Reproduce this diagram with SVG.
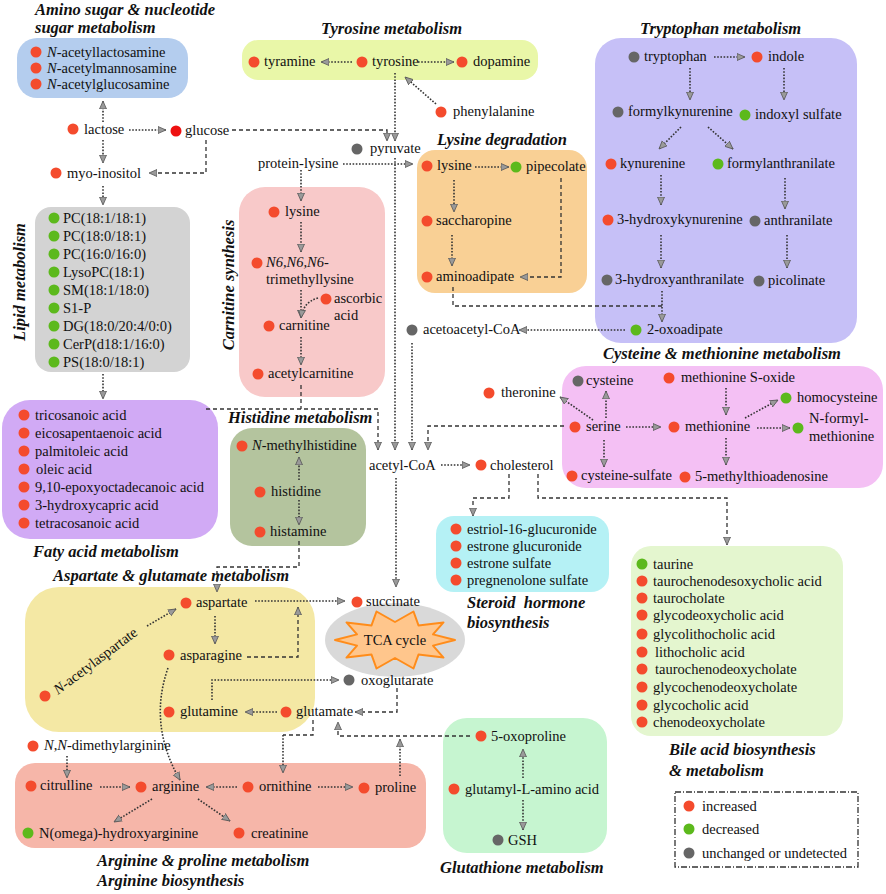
<svg xmlns="http://www.w3.org/2000/svg" width="886" height="894" viewBox="0 0 886 894">
<defs>
<marker id="ah" markerUnits="userSpaceOnUse" markerWidth="10" markerHeight="10" refX="8" refY="4" orient="auto">
<path d="M0,0.5 L8,4 L0,7.5 z" fill="#9a9a9a" stroke="#555" stroke-width="0.8"/>
</marker>
<style>
.t{font-family:"Liberation Serif","Times New Roman",serif;font-size:14.5px;fill:#111}
.h{font-family:"Liberation Serif","Times New Roman",serif;font-size:16.5px;font-weight:bold;font-style:italic;fill:#111}
.i{font-style:italic}
.r{fill:#f44b2d}.g{fill:#5cb91c}.n{fill:#666}.rr{fill:#ee1111}
.d{fill:none;stroke:#333;stroke-width:1.6;stroke-dasharray:1.6 1.6;marker-end:url(#ah)}
.dn{fill:none;stroke:#333;stroke-width:1.6;stroke-dasharray:1.6 1.6}
.s{fill:none;stroke:#333;stroke-width:1.3;stroke-dasharray:4 3;marker-end:url(#ah)}
.sn{fill:none;stroke:#333;stroke-width:1.3;stroke-dasharray:4 3}
</style>
</defs>
<rect width="886" height="894" fill="#fff"/>

<!-- pathway boxes -->
<g id="box-aminosugar"><rect x="17" y="38" width="171" height="60" rx="20" fill="#b4cdee"/>
<text class="h" x="35" y="15">Amino sugar &amp; nucleotide</text><text class="h" x="35" y="33">sugar metabolism</text></g>
<g id="box-tyrosine"><rect x="242" y="40" width="296" height="40" rx="16" fill="#e9f7a8"/><text class="h" x="321" y="34">Tyrosine metabolism</text></g>
<g id="box-tryptophan"><rect x="595" y="38" width="262" height="305" rx="26" fill="#c6c0f7"/><text class="h" x="640" y="34">Tryptophan metabolism</text></g>
<g id="box-lysine"><rect x="417" y="150" width="170" height="143" rx="18" fill="#f9d095"/><text class="h" x="437" y="145">Lysine degradation</text></g>
<g id="box-carnitine"><rect x="239" y="187" width="146" height="210" rx="26" fill="#f8c9c9"/><text class="h" transform="translate(234,285) rotate(-90)" text-anchor="middle">Carnitine synthesis</text></g>
<g id="box-lipid"><rect x="35" y="207" width="155" height="165" rx="16" fill="#d3d3d3"/><text class="h" transform="translate(25,282) rotate(-90)" text-anchor="middle">Lipid metabolism</text></g>
<g id="box-fatty"><rect x="2" y="400" width="216" height="139" rx="28" fill="#d1aaf5"/><text class="h" x="33" y="557">Faty acid metabolism</text></g>
<g id="box-histidine"><rect x="230" y="428" width="136" height="118" rx="22" fill="#b4c49e"/><text class="h" x="228" y="423">Histidine metabolism</text></g>
<g id="box-cysteine"><rect x="562" y="366" width="321" height="122" rx="24" fill="#f4c0f4"/><text class="h" x="603" y="359">Cysteine &amp; methionine metabolism</text></g>
<g id="box-steroid"><rect x="436" y="516" width="173" height="76" rx="18" fill="#b5f1f5"/><text class="h" x="467" y="608" xml:space="preserve">Steroid  hormone</text><text class="h" x="467" y="628">biosynthesis</text></g>
<g id="box-bile"><rect x="631" y="546" width="212" height="190" rx="20" fill="#e4f6cf"/><text class="h" x="669" y="755">Bile acid biosynthesis</text><text class="h" x="669" y="776">&amp; metabolism</text></g>
<g id="box-aspartate"><rect x="25" y="587" width="290" height="145" rx="34" fill="#f4e8a4"/><text class="h" x="53" y="581">Aspartate &amp; glutamate metabolism</text></g>
<g id="box-arginine"><rect x="15" y="763" width="411" height="85" rx="20" fill="#f6b6a9"/><text class="h" x="97" y="866">Arginine &amp; proline metabolism</text><text class="h" x="97" y="886">Arginine biosynthesis</text></g>
<g id="box-glutathione"><rect x="443" y="718" width="164" height="135" rx="24" fill="#c6f5d0"/><text class="h" x="440" y="873">Glutathione metabolism</text></g>
<g id="tca"><ellipse cx="395" cy="640" rx="70" ry="37" fill="#d9d9d9"/>
<path d="M455,640 L433,645.6 L443.5,657.6 L418.5,654.6 L413.5,668.5 L395,658 L376.5,668.5 L371.5,654.6 L346.5,657.6 L357,645.6 L335,640 L357,634.4 L346.5,622.4 L371.5,625.4 L376.5,611.5 L395,622 L413.5,611.5 L418.5,625.4 L443.5,622.4 L433,634.4 z" fill="#ffc68c" stroke="#ff8c1a" stroke-width="2" stroke-linejoin="round"/>
<text class="t" x="395" y="645" text-anchor="middle" font-size="15">TCA cycle</text></g>

<!-- connectors -->
<g id="connectors">
<path class="d" d="M129,130 H166"/>
<path class="d" d="M103,122 V101"/>
<path class="d" d="M103,140 V163"/>
<path class="d" d="M103,186 V205"/>
<path class="d" d="M103,374 V399"/>
<path class="s" d="M206,140 V173 H149"/>
<path class="s" d="M232,130 H387 V141"/>
<path class="d" d="M395,73 V141"/>
<path class="d" d="M395,158 V450"/>
<path class="d" d="M352,62 H321"/>
<path class="d" d="M418,62 H454"/>
<path class="d" d="M436,104 L405,77"/>
<path class="d" d="M301,170 V201"/>
<path class="d" d="M343,164 H413"/>
<path class="d" d="M301,222 V252"/>
<path class="d" d="M301,290 V318"/>
<path class="d" d="M318,298 Q303,302 301,318"/>
<path class="d" d="M301,337 V365"/>
<path class="sn" d="M301,385 V409"/>
<path class="s" d="M206,409 H378 V450"/>
<path class="d" d="M475,167 H509"/>
<path class="d" d="M454,180 V212"/>
<path class="d" d="M452,235 V266"/>
<path class="s" d="M561,178 V277 H520"/>
<path class="sn" d="M453,287 V306 H662"/>
<path class="d" d="M662,291 V322"/>
<path class="d" d="M625,330 H519"/>
<path class="d" d="M412,343 V450"/>
<path class="s" d="M564,426 H428 V450"/>
<path class="d" d="M441,465 H470"/>
<path class="d" d="M396,478 V587"/>
<path class="s" d="M509,474 V498 H473 V516"/>
<path class="s" d="M538,474 V498 H727 V545"/>
<path class="d" d="M714,57 H745"/>
<path class="d" d="M690,68 V100"/>
<path class="d" d="M784,68 V100"/>
<path class="d" d="M681,127 L659,149"/>
<path class="d" d="M708,127 L733,149"/>
<path class="d" d="M661,175 V205"/>
<path class="d" d="M785,178 V209"/>
<path class="d" d="M661,235 V268"/>
<path class="d" d="M787,235 V268"/>
<path class="d" d="M593,420 L560,397"/>
<path class="d" d="M606,418 V391"/>
<path class="d" d="M604,440 V467"/>
<path class="d" d="M626,427 H661"/>
<path class="d" d="M726,388 V415"/>
<path class="d" d="M745,418 L778,400"/>
<path class="d" d="M757,428 H790"/>
<path class="d" d="M726,438 V465"/>
<path class="d" d="M299,480 V457"/>
<path class="d" d="M299,500 V525"/>
<path class="s" d="M299,541 V567 H217 V592"/>
<path class="d" d="M147,626 L176,609"/>
<path class="d" d="M255,601 H345"/>
<path class="d" d="M215,616 V644"/>
<path class="s" d="M247,657 H298 V607"/>
<path class="d" d="M212,700 V680 H339"/>
<path class="s" d="M397,688 V712 H355"/>
<path class="d" d="M277,712 H245"/>
<path class="sn" d="M313,720 V735 H283"/>
<path class="d" d="M283,735 V773"/>
<path class="s" d="M470,736 H338 V722"/>
<path class="d" d="M400,776 V739"/>
<path class="d" d="M168,668 Q148,725 180,780"/>
<path class="d" d="M67,756 V778"/>
<path class="d" d="M100,787 H130"/>
<path class="d" d="M237,787 H206"/>
<path class="d" d="M318,787 H353"/>
<path class="d" d="M152,799 L114,822"/>
<path class="d" d="M198,799 L230,821"/>
<path class="d" d="M523,778 V749"/>
<path class="d" d="M523,800 V830"/>
</g>

<!-- metabolites -->
<g id="m-nacetyllactosamine"><circle class="r" cx="36" cy="52" r="5.5"/><text class="t" x="47" y="57"><tspan class="i">N</tspan>-acetyllactosamine</text></g>
<g id="m-nacetylmannosamine"><circle class="r" cx="36" cy="68" r="5.5"/><text class="t" x="47" y="73"><tspan class="i">N</tspan>-acetylmannosamine</text></g>
<g id="m-nacetylglucosamine"><circle class="r" cx="36" cy="84" r="5.5"/><text class="t" x="47" y="89"><tspan class="i">N</tspan>-acetylglucosamine</text></g>
<g id="m-lactose"><circle class="r" cx="73" cy="129" r="5.5"/><text class="t" x="84" y="134">lactose</text></g>
<g id="m-glucose"><circle class="rr" cx="176" cy="131" r="5.5"/><text class="t" x="185" y="135">glucose</text></g>
<g id="m-myoinositol"><circle class="r" cx="56" cy="173" r="5.5"/><text class="t" x="67" y="178">myo-inositol</text></g>

<g id="m-tyramine"><circle class="r" cx="254" cy="62" r="5.5"/><text class="t" x="264" y="66">tyramine</text></g>
<g id="m-tyrosine"><circle class="r" cx="362" cy="62" r="5.5"/><text class="t" x="372" y="66">tyrosine</text></g>
<g id="m-dopamine"><circle class="r" cx="462" cy="62" r="5.5"/><text class="t" x="473" y="66">dopamine</text></g>
<g id="m-phenylalanine"><circle class="r" cx="441" cy="112" r="5.5"/><text class="t" x="453" y="116">phenylalanine</text></g>
<g id="m-pyruvate"><circle class="n" cx="357" cy="149" r="5.5"/><text class="t" x="370" y="153">pyruvate</text></g>
<g id="m-proteinlysine"><text class="t" x="258" y="168">protein-lysine</text></g>

<g id="m-tryptophan"><circle class="n" cx="634" cy="57" r="5.5"/><text class="t" x="644" y="61">tryptophan</text></g>
<g id="m-indole"><circle class="r" cx="757" cy="57" r="5.5"/><text class="t" x="768" y="61">indole</text></g>
<g id="m-formylkynurenine"><circle class="n" cx="618" cy="112" r="5.5"/><text class="t" x="628" y="116">formylkynurenine</text></g>
<g id="m-indoxylsulfate"><circle class="g" cx="745" cy="115" r="5.5"/><text class="t" x="755" y="119">indoxyl sulfate</text></g>
<g id="m-kynurenine"><circle class="r" cx="611" cy="164" r="5.5"/><text class="t" x="620" y="168">kynurenine</text></g>
<g id="m-formylanthranilate"><circle class="g" cx="718" cy="164" r="5.5"/><text class="t" x="727" y="168">formylanthranilate</text></g>
<g id="m-3hk"><circle class="r" cx="608" cy="220" r="5.5"/><text class="t" x="617" y="224">3-hydroxykynurenine</text></g>
<g id="m-anthranilate"><circle class="n" cx="755" cy="221" r="5.5"/><text class="t" x="764" y="225">anthranilate</text></g>
<g id="m-3ha"><circle class="n" cx="607" cy="280" r="5.5"/><text class="t" x="615" y="284">3-hydroxyanthranilate</text></g>
<g id="m-picolinate"><circle class="n" cx="759" cy="281" r="5.5"/><text class="t" x="768" y="285">picolinate</text></g>
<g id="m-2oxoadipate"><circle class="g" cx="636" cy="330" r="5.5"/><text class="t" x="647" y="334">2-oxoadipate</text></g>

<g id="m-lysine-deg"><circle class="r" cx="427" cy="166" r="5.5"/><text class="t" x="437" y="170">lysine</text></g>
<g id="m-pipecolate"><circle class="g" cx="516" cy="167" r="5.5"/><text class="t" x="526" y="171">pipecolate</text></g>
<g id="m-saccharopine"><circle class="r" cx="427" cy="221" r="5.5"/><text class="t" x="436" y="225">saccharopine</text></g>
<g id="m-aminoadipate"><circle class="r" cx="427" cy="277" r="5.5"/><text class="t" x="436" y="281">aminoadipate</text></g>
<g id="m-acetoacetylcoa"><circle class="n" cx="412" cy="330" r="5.5"/><text class="t" x="423" y="334">acetoacetyl-CoA</text></g>

<g id="m-lysine-carn"><circle class="r" cx="274" cy="212" r="5.5"/><text class="t" x="285" y="216">lysine</text></g>
<g id="m-tml"><circle class="r" cx="257" cy="263" r="5.5"/><text class="t" x="266" y="267"><tspan class="i">N6,N6,N6-</tspan></text><text class="t" x="266" y="284">trimethyllysine</text></g>
<g id="m-ascorbic"><circle class="r" cx="326" cy="299" r="5.5"/><text class="t" x="334" y="303">ascorbic</text><text class="t" x="334" y="320">acid</text></g>
<g id="m-carnitine"><circle class="r" cx="269" cy="326" r="5.5"/><text class="t" x="279" y="330">carnitine</text></g>
<g id="m-acetylcarnitine"><circle class="r" cx="258" cy="374" r="5.5"/><text class="t" x="268" y="378">acetylcarnitine</text></g>

<g id="m-lipids">
<circle class="g" cx="54" cy="218" r="5.5"/><text class="t" x="63" y="223">PC(18:1/18:1)</text>
<circle class="g" cx="54" cy="236" r="5.5"/><text class="t" x="63" y="241">PC(18:0/18:1)</text>
<circle class="g" cx="54" cy="254" r="5.5"/><text class="t" x="63" y="259">PC(16:0/16:0)</text>
<circle class="g" cx="54" cy="272" r="5.5"/><text class="t" x="63" y="277">LysoPC(18:1)</text>
<circle class="g" cx="54" cy="290" r="5.5"/><text class="t" x="63" y="295">SM(18:1/18:0)</text>
<circle class="g" cx="54" cy="308" r="5.5"/><text class="t" x="63" y="313">S1-P</text>
<circle class="g" cx="54" cy="326" r="5.5"/><text class="t" x="63" y="331">DG(18:0/20:4/0:0)</text>
<circle class="g" cx="54" cy="344" r="5.5"/><text class="t" x="63" y="349">CerP(d18:1/16:0)</text>
<circle class="g" cx="54" cy="362" r="5.5"/><text class="t" x="63" y="367">PS(18:0/18:1)</text>
</g>
<g id="m-fattyacids">
<circle class="r" cx="24" cy="415" r="5.5"/><text class="t" x="35" y="420">tricosanoic acid</text>
<circle class="r" cx="24" cy="433" r="5.5"/><text class="t" x="35" y="438">eicosapentaenoic acid</text>
<circle class="r" cx="24" cy="451" r="5.5"/><text class="t" x="35" y="456">palmitoleic acid</text>
<circle class="r" cx="24" cy="469" r="5.5"/><text class="t" x="36" y="474">oleic acid</text>
<circle class="r" cx="24" cy="487" r="5.5"/><text class="t" x="35" y="492">9,10-epoxyoctadecanoic acid</text>
<circle class="r" cx="24" cy="505" r="5.5"/><text class="t" x="35" y="510">3-hydroxycapric acid</text>
<circle class="r" cx="24" cy="523" r="5.5"/><text class="t" x="35" y="528">tetracosanoic acid</text>
</g>

<g id="m-nmethylhistidine"><circle class="r" cx="242" cy="446" r="5.5"/><text class="t" x="252" y="450"><tspan class="i">N</tspan>-methylhistidine</text></g>
<g id="m-histidine"><circle class="r" cx="260" cy="492" r="5.5"/><text class="t" x="271" y="496">histidine</text></g>
<g id="m-histamine"><circle class="r" cx="260" cy="532" r="5.5"/><text class="t" x="270" y="536">histamine</text></g>

<g id="m-acetylcoa"><text class="t" x="369" y="470">acetyl-CoA</text></g>
<g id="m-cholesterol"><circle class="r" cx="481" cy="465" r="5.5"/><text class="t" x="490" y="470">cholesterol</text></g>

<g id="m-theronine"><circle class="r" cx="489" cy="393" r="5.5"/><text class="t" x="501" y="397">theronine</text></g>
<g id="m-cysteine"><circle class="n" cx="578" cy="381" r="5.5"/><text class="t" x="586" y="385">cysteine</text></g>
<g id="m-metso"><circle class="r" cx="669" cy="378" r="5.5"/><text class="t" x="681" y="382">methionine S-oxide</text></g>
<g id="m-homocysteine"><circle class="g" cx="786" cy="398" r="5.5"/><text class="t" x="797" y="402">homocysteine</text></g>
<g id="m-serine"><circle class="r" cx="575" cy="427" r="5.5"/><text class="t" x="586" y="431">serine</text></g>
<g id="m-methionine"><circle class="r" cx="674" cy="427" r="5.5"/><text class="t" x="685" y="431">methionine</text></g>
<g id="m-nformylmet"><circle class="g" cx="798" cy="428" r="5.5"/><text class="t" x="809" y="423">N-formyl-</text><text class="t" x="809" y="441">methionine</text></g>
<g id="m-cysteinesulfate"><circle class="r" cx="572" cy="476" r="5.5"/><text class="t" x="581" y="480">cysteine-sulfate</text></g>
<g id="m-mta"><circle class="r" cx="685" cy="477" r="5.5"/><text class="t" x="695" y="481">5-methylthioadenosine</text></g>

<g id="m-steroids">
<circle class="r" cx="456" cy="529" r="5.5"/><text class="t" x="467" y="534">estriol-16-glucuronide</text>
<circle class="r" cx="456" cy="546" r="5.5"/><text class="t" x="467" y="551">estrone glucuronide</text>
<circle class="r" cx="456" cy="563" r="5.5"/><text class="t" x="467" y="568">estrone sulfate</text>
<circle class="r" cx="456" cy="580" r="5.5"/><text class="t" x="467" y="585">pregnenolone sulfate</text>
</g>
<g id="m-bileacids">
<circle class="g" cx="642" cy="564" r="5.5"/><text class="t" x="653" y="569">taurine</text>
<circle class="r" cx="642" cy="581" r="5.5"/><text class="t" x="653" y="586">taurochenodesoxycholic acid</text>
<circle class="r" cx="642" cy="598" r="5.5"/><text class="t" x="653" y="603">taurocholate</text>
<circle class="r" cx="642" cy="615" r="5.5"/><text class="t" x="653" y="620">glycodeoxycholic acid</text>
<circle class="r" cx="642" cy="634" r="5.5"/><text class="t" x="653" y="639">glycolithocholic acid</text>
<circle class="r" cx="642" cy="652" r="5.5"/><text class="t" x="655" y="657">lithocholic acid</text>
<circle class="r" cx="642" cy="669" r="5.5"/><text class="t" x="655" y="674">taurochenodeoxycholate</text>
<circle class="r" cx="642" cy="687" r="5.5"/><text class="t" x="653" y="692">glycochenodeoxycholate</text>
<circle class="r" cx="642" cy="705" r="5.5"/><text class="t" x="653" y="710">glycocholic acid</text>
<circle class="r" cx="642" cy="722" r="5.5"/><text class="t" x="653" y="727">chenodeoxycholate</text>
</g>

<g id="m-aspartate"><circle class="r" cx="186" cy="603" r="5.5"/><text class="t" x="196" y="607">aspartate</text></g>
<g id="m-succinate"><circle class="r" cx="357" cy="602" r="5.5"/><text class="t" x="366" y="606">succinate</text></g>
<g id="m-nacetylaspartate"><circle class="r" cx="45" cy="696" r="5.5"/><text class="t" transform="translate(58,695) rotate(-37)"><tspan class="i">N</tspan>-acetylaspartate</text></g>
<g id="m-asparagine"><circle class="r" cx="169" cy="655" r="5.5"/><text class="t" x="180" y="660">asparagine</text></g>
<g id="m-oxoglutarate"><circle class="n" cx="349" cy="680" r="5.5"/><text class="t" x="361" y="685">oxoglutarate</text></g>
<g id="m-glutamine"><circle class="r" cx="169" cy="712" r="5.5"/><text class="t" x="180" y="716">glutamine</text></g>
<g id="m-glutamate"><circle class="r" cx="286" cy="712" r="5.5"/><text class="t" x="296" y="716">glutamate</text></g>

<g id="m-dimethylarginine"><circle class="r" cx="33" cy="746" r="5.5"/><text class="t" x="44" y="750"><tspan class="i">N</tspan>,<tspan class="i">N</tspan>-dimethylarginine</text></g>
<g id="m-citrulline"><circle class="r" cx="31" cy="786" r="5.5"/><text class="t" x="40" y="790">citrulline</text></g>
<g id="m-arginine"><circle class="r" cx="141" cy="787" r="5.5"/><text class="t" x="152" y="791">arginine</text></g>
<g id="m-ornithine"><circle class="r" cx="248" cy="787" r="5.5"/><text class="t" x="259" y="791">ornithine</text></g>
<g id="m-proline"><circle class="r" cx="364" cy="788" r="5.5"/><text class="t" x="375" y="792">proline</text></g>
<g id="m-nohydroxyarginine"><circle class="g" cx="28" cy="833" r="5.5"/><text class="t" x="39" y="838">N(omega)-hydroxyarginine</text></g>
<g id="m-creatinine"><circle class="r" cx="239" cy="833" r="5.5"/><text class="t" x="251" y="838">creatinine</text></g>

<g id="m-5oxoproline"><circle class="r" cx="481" cy="736" r="5.5"/><text class="t" x="491" y="741">5-oxoproline</text></g>
<g id="m-glutamyl"><circle class="r" cx="454" cy="789" r="5.5"/><text class="t" x="465" y="794">glutamyl-L-amino acid</text></g>
<g id="m-gsh"><circle class="n" cx="498" cy="840" r="5.5"/><text class="t" x="508" y="845">GSH</text></g>

<g id="legend">
<rect x="675" y="792" width="183" height="75" fill="none" stroke="#333" stroke-width="1.3" stroke-dasharray="6 2 1 2"/>
<circle class="r" cx="689" cy="806" r="5.5"/><text class="t" x="702" y="811">increased</text>
<circle class="g" cx="689" cy="829" r="5.5"/><text class="t" x="702" y="834">decreased</text>
<circle class="n" cx="689" cy="853" r="5.5"/><text class="t" x="702" y="858">unchanged or undetected</text>
</g>
</svg>
